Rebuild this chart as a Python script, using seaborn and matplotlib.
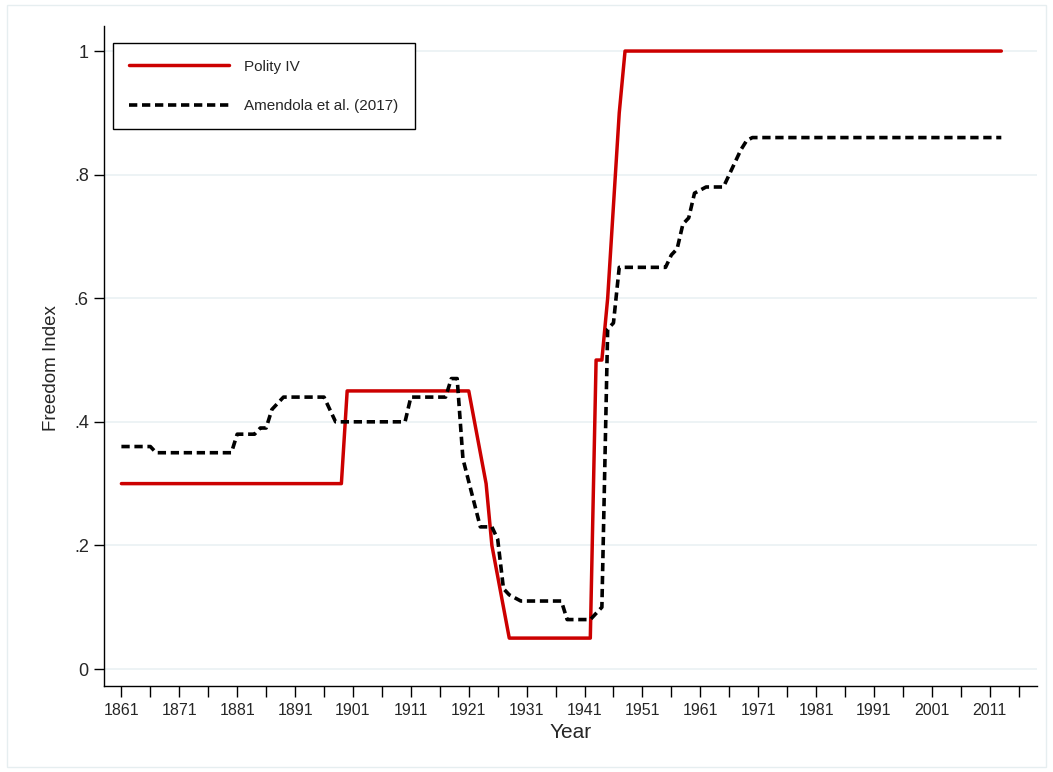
import pandas as pd
import matplotlib.pyplot as plt
import seaborn as sns
from matplotlib.patches import Rectangle

# Polity IV index (breakpoints of the line)
polity_years = [1861, 1899, 1900, 1921, 1924, 1925, 1928, 1942, 1943, 1944,
                1945, 1946, 1947, 1948, 2013]
polity_values = [0.30, 0.30, 0.45, 0.45, 0.30, 0.20, 0.05, 0.05, 0.50, 0.50,
                 0.60, 0.75, 0.90, 1.00, 1.00]

# Amendola et al. (2017) index
amendola_years = [1861, 1866, 1867, 1880, 1881, 1884, 1885, 1886, 1887, 1888,
                  1889, 1896, 1897, 1898, 1910, 1911, 1917, 1918, 1919, 1920,
                  1923, 1925, 1926, 1927, 1928, 1930, 1937, 1938, 1942, 1943,
                  1944, 1945, 1946, 1947, 1955, 1956, 1957, 1958, 1959, 1960,
                  1961, 1962, 1965, 1966, 1967, 1968, 1969, 1970, 2013]
amendola_values = [0.36, 0.36, 0.35, 0.35, 0.38, 0.38, 0.39, 0.39, 0.42, 0.43,
                   0.44, 0.44, 0.42, 0.40, 0.40, 0.44, 0.44, 0.47, 0.47, 0.34,
                   0.23, 0.23, 0.21, 0.13, 0.12, 0.11, 0.11, 0.08, 0.08, 0.09,
                   0.10, 0.55, 0.56, 0.65, 0.65, 0.67, 0.68, 0.72, 0.73, 0.77,
                   0.775, 0.78, 0.78, 0.80, 0.82, 0.84, 0.855, 0.86, 0.86]

x_labels = list(range(1861, 2012, 10))
x_all_ticks = list(range(1861, 2017, 5))
y_ticks = [0, 0.2, 0.4, 0.6, 0.8, 1.0]
y_labels = ["0", ".2", ".4", ".6", ".8", "1"]

sns.set_style("white")
plt.rcParams['font.family'] = ['Liberation Sans', 'DejaVu Sans']

polity = pd.DataFrame({'Year': polity_years, 'Index': polity_values})
amendola = pd.DataFrame({'Year': amendola_years, 'Index': amendola_values})

fig = plt.figure(figsize=(10.53, 7.72), dpi=100)
ax = fig.add_axes([0.0988, 0.1114, 0.8862, 0.8549])

# light outer frame like the graph region
fig.patches.append(Rectangle((0.0066, 0.0065), 0.987, 0.987, transform=fig.transFigure,
                             fill=False, edgecolor='#e6eef0', linewidth=1.0))

for yv in y_ticks:
    ax.axhline(yv, color='#eaf1f3', linewidth=1.2, zorder=0)

sns.lineplot(data=polity, x='Year', y='Index', ax=ax, color='#cc0000',
             linewidth=2.5, label='Polity IV', zorder=3)
sns.lineplot(data=amendola, x='Year', y='Index', ax=ax, color='black',
             linewidth=2.6, linestyle=(0, (2.3, 1.3)),
             label='Amendola et al. (2017)', zorder=4)

ax.set_xlim(1858.0, 2019.2)
ax.set_ylim(-0.0275, 1.0405)

ax.set_xticks(x_labels)
ax.set_xticklabels([str(y) for y in x_labels], fontsize=11.5)
ax.set_xticks([t for t in x_all_ticks if t not in x_labels], minor=True)
ax.set_yticks(y_ticks)
ax.set_yticklabels(y_labels, fontsize=13)
ax.tick_params(axis='x', which='both', direction='out', length=8, width=1,
               color='black', pad=4, bottom=True)
ax.tick_params(axis='y', direction='out', length=7, width=1, color='black',
               pad=4, left=True)

for side in ['top', 'right']:
    ax.spines[side].set_visible(False)
for side in ['left', 'bottom']:
    ax.spines[side].set_color('black')
    ax.spines[side].set_linewidth(1.0)

ax.set_xlabel('Year', fontsize=15, labelpad=4)
ax.set_ylabel('Freedom Index', fontsize=13.5)
ax.yaxis.set_label_coords(-0.047, 0.482)

leg = ax.legend(loc='upper left', bbox_to_anchor=(0.0096, 0.974), fontsize=11,
                frameon=True, fancybox=False, edgecolor='black', framealpha=1,
                handlelength=6.5, handletextpad=1.0, labelspacing=1.65,
                borderpad=1.08, borderaxespad=0)
leg.get_frame().set_linewidth(1.0)

fig.savefig('out.png', dpi=100)
